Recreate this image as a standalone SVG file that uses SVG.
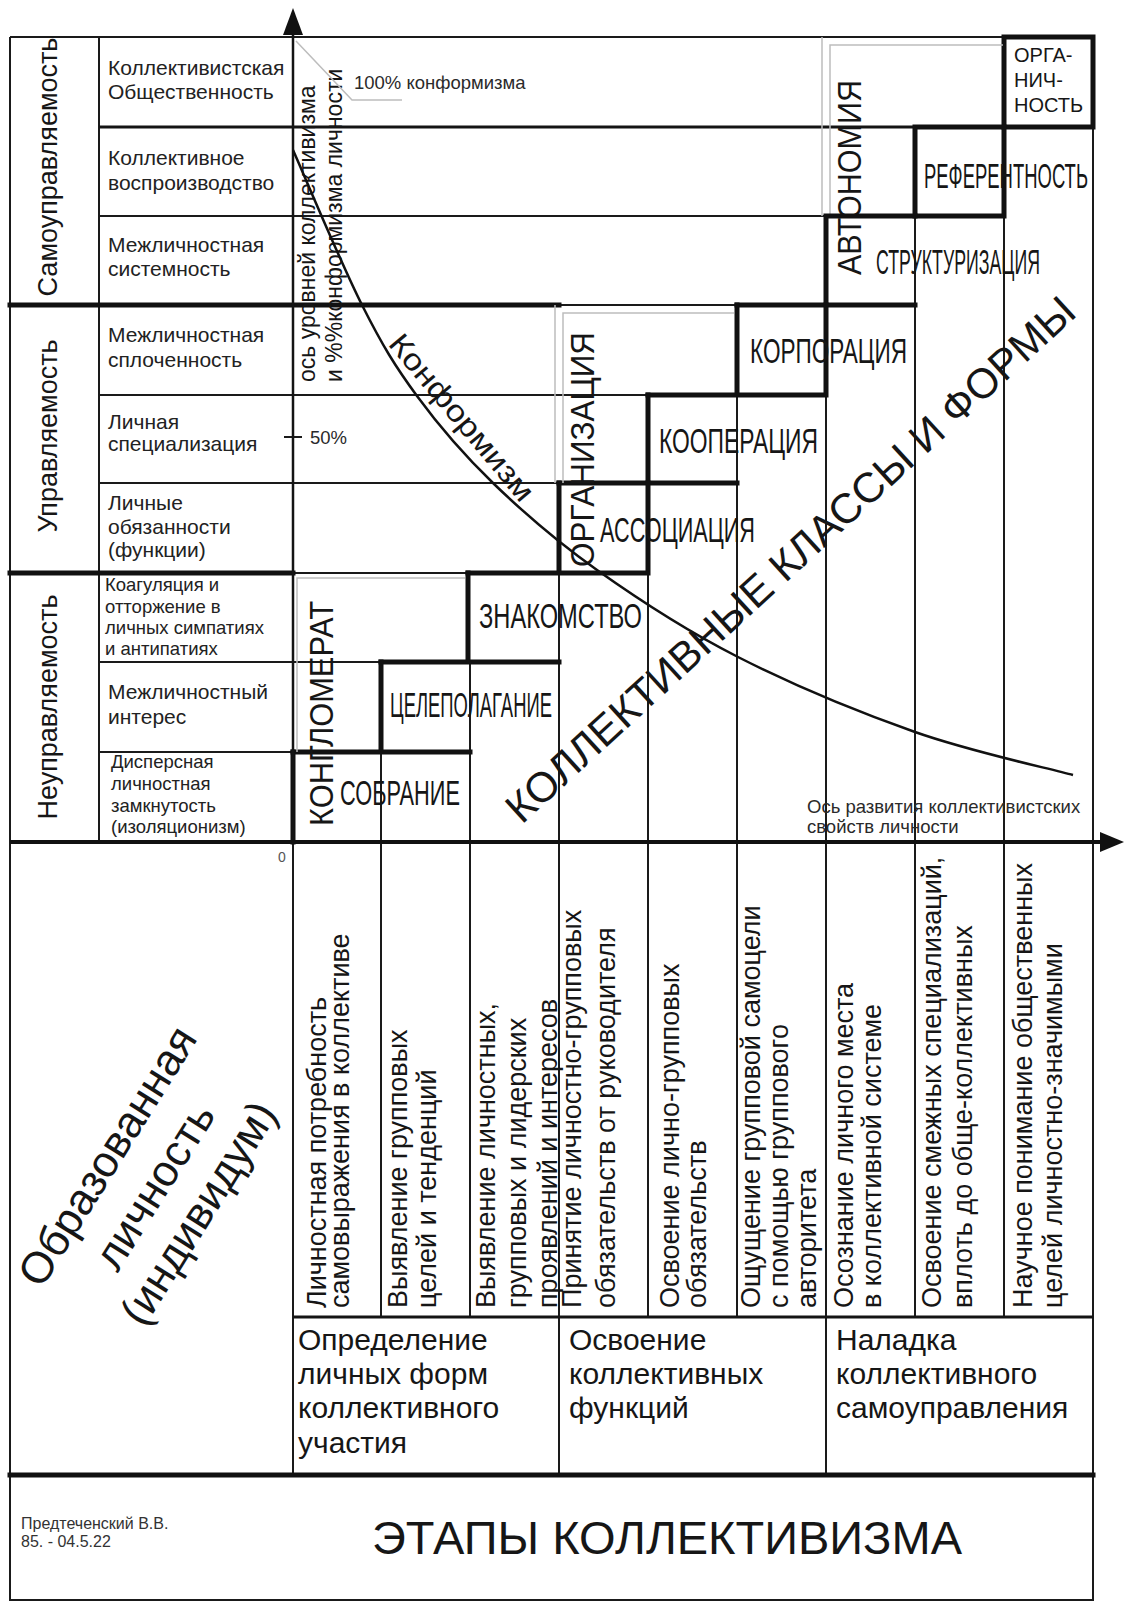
<svg xmlns="http://www.w3.org/2000/svg" width="1125" height="1602" viewBox="0 0 1125 1602">
<style>
text { font-family: "Liberation Sans", Arial, Helvetica, sans-serif; fill: #161616; }
.ln { fill: none; stroke: #1a1a1a; stroke-width: 2; }
.md { fill: none; stroke: #141414; stroke-width: 3; }
.tk { fill: none; stroke: #111; stroke-width: 5; stroke-linecap: square; }
.gr { fill: none; stroke: #bdbdbd; stroke-width: 1.5; }
.row { font-size: 21px; fill: #222; }
.row2 { font-size: 18.5px; fill: #222; }
.cat { font-size: 27px; }
.cls { font-size: 35px; }
.vcls { font-size: 34px; }
.sub { font-size: 27px; }
.stage { font-size: 30px; }
.small { font-size: 18.5px; fill: #2a2a2a; }
</style>
<rect width="1125" height="1602" fill="#ffffff"/>

<g id="frame">
  <path class="ln" d="M10,37 V1600 H1093 V37 M10,37 H1004 M99,37 V842 M99,216 H826 M559,305 H737 M99,395 H648 M99,483 H559 M293,573 H468 M99,662 H381 M99,752 H293 M381,752 V1317 M470,662 V1317 M559,573 V1475 M648,573 V1317 M737,395 V1317 M826,395 V1475 M915,216 V1317 M1004,216 V1317 M293,842 V1475"/>
  <path class="md" d="M99,127 H915 M293,1317 H1093"/>
  <path class="tk" d="M10,305 H559 M10,573 H293 M10,1475 H1093"/>
</g>

<g id="row-labels">
  <text class="row" x="108" y="75">Коллективистская</text>
  <text class="row" x="108" y="99">Общественность</text>
  <text class="row" x="108" y="165">Коллективное</text>
  <text class="row" x="108" y="190">воспроизводство</text>
  <text class="row" x="108" y="252">Межличностная</text>
  <text class="row" x="108" y="276">системность</text>
  <text class="row" x="108" y="342">Межличностная</text>
  <text class="row" x="108" y="367">сплоченность</text>
  <text class="row" x="108" y="429">Личная</text>
  <text class="row" x="108" y="451">специализация</text>
  <text class="row" x="108" y="510">Личные</text>
  <text class="row" x="108" y="534">обязанности</text>
  <text class="row" x="108" y="557">(функции)</text>
  <text class="row2" x="105" y="591">Коагуляция и</text>
  <text class="row2" x="105" y="613">отторжение в</text>
  <text class="row2" x="105" y="634">личных симпатиях</text>
  <text class="row2" x="105" y="655">и антипатиях</text>
  <text class="row" x="108" y="699">Межличностный</text>
  <text class="row" x="108" y="724">интерес</text>
  <text class="row2" x="111" y="768">Дисперсная</text>
  <text class="row2" x="111" y="790">личностная</text>
  <text class="row2" x="111" y="812">замкнутость</text>
  <text class="row2" x="111" y="833">(изоляционизм)</text>
</g>

<g id="categories">
  <text class="cat" text-anchor="middle" transform="translate(57,167) rotate(-90)">Самоуправляемость</text>
  <text class="cat" text-anchor="middle" transform="translate(57,436) rotate(-90)">Управляемость</text>
  <text class="cat" text-anchor="middle" transform="translate(57,707) rotate(-90)">Неуправляемость</text>
</g>

<g id="axis-y-labels">
  <text style="font-size:23px" transform="translate(315,382) rotate(-90)">ось уровней коллективизма</text>
  <text style="font-size:23px" transform="translate(342,382) rotate(-90)">и %%конформизма личности</text>
  <path class="gr" d="M296,41 L352,100 H402"/>
  <text class="small" x="354" y="89">100% конформизма</text>
  <path class="ln" d="M284,437 H302"/>
  <text class="small" x="310" y="444">50%</text>
  <text style="font-size:14px;fill:#555" x="282" y="862" text-anchor="middle">0</text>
  <text class="small" x="807" y="813">Ось развития коллективистских</text>
  <text class="small" x="807" y="833">свойств личности</text>
</g>

<g id="organichnost">
  <path class="tk" d="M1004,127 V37 H1093 V127 Z"/>
  <text style="font-size:20px" x="1014" y="62">ОРГА-</text>
  <text style="font-size:20px" x="1014" y="87">НИЧ-</text>
  <text style="font-size:20px" x="1014" y="112">НОСТЬ</text>
</g>
<g id="referentnost">
  <path class="tk" d="M915,127 H1004 V216 H915 Z"/>
  <text class="cls" x="924" y="188" textLength="164" lengthAdjust="spacingAndGlyphs">РЕФЕРЕНТНОСТЬ</text>
</g>
<g id="avtonomiya">
  <path class="gr" d="M822,37 V216 M830,216 V45 H1003"/>
  <text class="vcls" transform="translate(861,275) rotate(-90)" textLength="195" lengthAdjust="spacingAndGlyphs">АВТОНОМИЯ</text>
</g>
<g id="strukturizaciya">
  <path class="tk" d="M915,216 H826 V305 M737,305 H915"/>
  <text class="cls" x="876" y="274" textLength="164" lengthAdjust="spacingAndGlyphs">СТРУКТУРИЗАЦИЯ</text>
</g>
<g id="korporaciya">
  <path class="tk" d="M737,395 V305 M826,305 V395 M648,395 H826"/>
  <text class="cls" x="750" y="363" textLength="157" lengthAdjust="spacingAndGlyphs">КОРПОРАЦИЯ</text>
</g>
<g id="kooperaciya">
  <path class="tk" d="M648,395 V483 M559,483 H737"/>
  <text class="cls" x="659" y="453" textLength="159" lengthAdjust="spacingAndGlyphs">КООПЕРАЦИЯ</text>
</g>
<g id="organizaciya">
  <path class="gr" d="M555,305 V483 M563,483 V313 H734"/>
  <text class="vcls" transform="translate(594,567) rotate(-90)" textLength="235" lengthAdjust="spacingAndGlyphs">ОРГАНИЗАЦИЯ</text>
</g>
<g id="associaciya">
  <path class="tk" d="M559,483 V573 M648,483 V573 M468,573 H648"/>
  <text class="cls" x="600" y="542" textLength="155" lengthAdjust="spacingAndGlyphs">АССОЦИАЦИЯ</text>
</g>
<g id="znakomstvo">
  <path class="tk" d="M468,573 V662 M381,662 H559"/>
  <text class="cls" x="479" y="628" textLength="163" lengthAdjust="spacingAndGlyphs">ЗНАКОМСТВО</text>
</g>
<g id="celepolaganie">
  <path class="tk" d="M381,662 V752 M293,752 H470"/>
  <text class="cls" x="390" y="717" textLength="162" lengthAdjust="spacingAndGlyphs">ЦЕЛЕПОЛАГАНИЕ</text>
</g>
<g id="sobranie">
  <path class="tk" d="M293,752 V842"/>
  <text class="cls" x="340" y="805" textLength="120" lengthAdjust="spacingAndGlyphs">СОБРАНИЕ</text>
</g>
<g id="konglomerat">
  <path class="gr" d="M297,752 V578 H465"/>
  <text class="vcls" transform="translate(333,826) rotate(-90)" textLength="225" lengthAdjust="spacingAndGlyphs">КОНГЛОМЕРАТ</text>
</g>

<g id="connectors">
  <path d="M293,30 V842" fill="none" stroke="#141414" stroke-width="2.5"/>
  <polygon points="293,8 283,35 303,35" fill="#111"/>
  <path d="M10,842 H1102" fill="none" stroke="#111" stroke-width="4"/>
  <polygon points="1124,842 1100,832 1100,852" fill="#111"/>
  <path d="M293,150 C304.5,175.8 341.3,264 362,305 C382.7,346 395.2,366.3 417,396 C438.8,425.7 463,454 493,483 C523,512 556.2,541 597,570 C637.8,599 685,630 738,657 C791,684 859.2,712.3 915,732 C970.8,751.7 1046.7,767.8 1073,775" fill="none" stroke="#111" stroke-width="2.5"/>
</g>

<g id="big-labels">
  <text style="font-size:30px" text-anchor="middle" transform="translate(454,424) rotate(50)" textLength="208" lengthAdjust="spacingAndGlyphs">Конформизм</text>
  <text style="font-size:42px" text-anchor="middle" transform="translate(800,570) rotate(-42.5)" textLength="755" lengthAdjust="spacingAndGlyphs">КОЛЛЕКТИВНЫЕ КЛАССЫ И ФОРМЫ</text>
</g>

<g id="individuum">
  <text style="font-size:44px" text-anchor="middle" transform="translate(120,1164) rotate(-58)">Образованная</text>
  <text style="font-size:44px" text-anchor="middle" transform="translate(167,1194) rotate(-58)">личность</text>
  <text style="font-size:44px" text-anchor="middle" transform="translate(211,1221) rotate(-58)">(индивидум)</text>
</g>

<g id="sub-columns">
  <text class="sub" transform="translate(326,1308) rotate(-90)">Личностная потребность</text>
  <text class="sub" transform="translate(349,1308) rotate(-90)">самовыражения в коллективе</text>
  <text class="sub" transform="translate(407,1308) rotate(-90)">Выявление групповых</text>
  <text class="sub" transform="translate(436,1308) rotate(-90)">целей и тенденций</text>
  <text class="sub" transform="translate(495,1308) rotate(-90)">Выявление личностных,</text>
  <text class="sub" transform="translate(526,1308) rotate(-90)">групповых и лидерских</text>
  <text class="sub" transform="translate(557,1308) rotate(-90)">проявлений и интересов</text>
  <text class="sub" transform="translate(581,1308) rotate(-90)">Принятие личностно-групповых</text>
  <text class="sub" transform="translate(615,1308) rotate(-90)">обязательств от руководителя</text>
  <text class="sub" transform="translate(679,1308) rotate(-90)">Освоение лично-групповых</text>
  <text class="sub" transform="translate(706,1308) rotate(-90)">обязательств</text>
  <text class="sub" transform="translate(760,1308) rotate(-90)">Ощущение групповой самоцели</text>
  <text class="sub" transform="translate(788,1308) rotate(-90)">с помощью группового</text>
  <text class="sub" transform="translate(816,1308) rotate(-90)">авторитета</text>
  <text class="sub" transform="translate(853,1308) rotate(-90)">Осознание личного места</text>
  <text class="sub" transform="translate(881,1308) rotate(-90)">в коллективной системе</text>
  <text class="sub" transform="translate(941,1308) rotate(-90)">Освоение смежных специализаций,</text>
  <text class="sub" transform="translate(972,1308) rotate(-90)">вплоть до обще-коллективных</text>
  <text class="sub" transform="translate(1032,1308) rotate(-90)">Научное понимание общественных</text>
  <text class="sub" transform="translate(1062,1308) rotate(-90)">целей личностно-значимыми</text>
</g>

<g id="stages">
  <text class="stage" x="298" y="1350">Определение</text>
  <text class="stage" x="298" y="1384">личных форм</text>
  <text class="stage" x="298" y="1418">коллективного</text>
  <text class="stage" x="298" y="1453">участия</text>
  <text class="stage" x="569" y="1350">Освоение</text>
  <text class="stage" x="569" y="1384">коллективных</text>
  <text class="stage" x="569" y="1418">функций</text>
  <text class="stage" x="836" y="1350">Наладка</text>
  <text class="stage" x="836" y="1384">коллективного</text>
  <text class="stage" x="836" y="1418">самоуправления</text>
</g>

<g id="title">
  <text style="font-size:16px;fill:#333" x="21" y="1529">Предтеченский В.В.</text>
  <text style="font-size:16px;fill:#333" x="21" y="1547">85. - 04.5.22</text>
  <text style="font-size:47px" x="667" y="1554" text-anchor="middle">ЭТАПЫ КОЛЛЕКТИВИЗМА</text>
</g>
</svg>
